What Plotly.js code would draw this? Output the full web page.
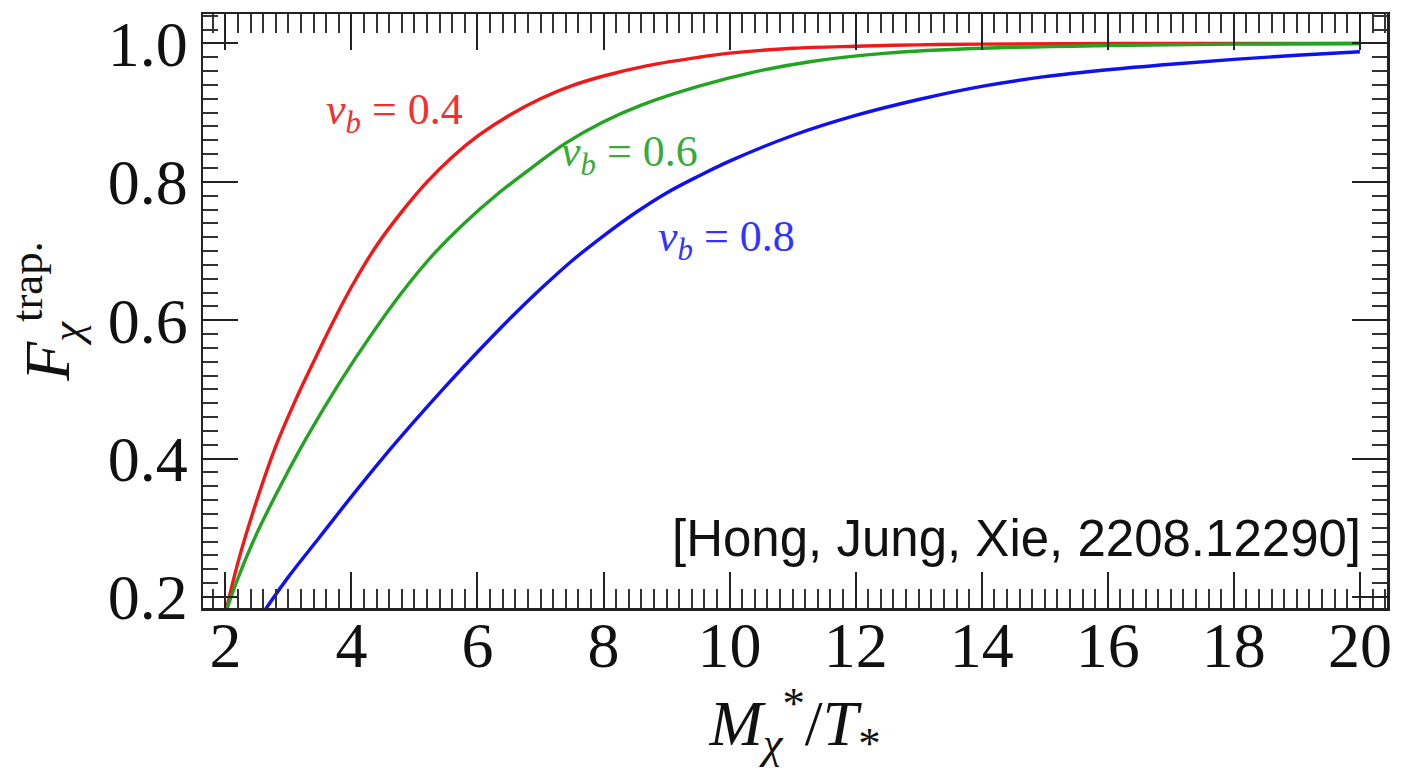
<!DOCTYPE html>
<html>
<head>
<meta charset="utf-8">
<script src="https://cdn.plot.ly/plotly-3.0.1.min.js"></script>
<style>html,body{margin:0;padding:0;background:#fff;}#chart{width:1408px;height:768px;}</style>
</head>
<body>
<div id="chart"></div>
<script>
// v_b = 0.4 (red)
const xRed = [2.0, 2.2, 2.5, 2.8, 3.1, 3.4, 3.7, 4.0, 4.4, 4.8, 5.2, 5.6, 6.0, 6.5, 7.0, 7.5, 8.0, 8.7, 9.5, 10.0, 11.0, 12.0, 13.0, 14.0, 16.0, 18.0, 20.0];
const yRed = [0.176, 0.250, 0.340, 0.418, 0.482, 0.540, 0.596, 0.648, 0.708, 0.757, 0.800, 0.836, 0.866, 0.896, 0.920, 0.939, 0.953, 0.968, 0.980, 0.986, 0.993, 0.996, 0.998, 0.999, 1.0, 1.0, 1.0];
// v_b = 0.6 (green)
const xGreen = [2.0, 2.2, 2.5, 2.9, 3.3, 3.8, 4.3, 4.8, 5.3, 5.8, 6.3, 6.9, 7.4, 8.0, 8.6, 9.5, 10.4, 11.3, 12.5, 14.0, 16.0, 18.0, 20.0];
const yGreen = [0.176, 0.227, 0.292, 0.365, 0.432, 0.508, 0.577, 0.640, 0.695, 0.741, 0.781, 0.823, 0.856, 0.887, 0.911, 0.938, 0.959, 0.974, 0.986, 0.993, 0.997, 0.999, 1.0];
// v_b = 0.8 (blue)
const xBlue = [2.62, 3.0, 3.5, 4.0, 4.5, 5.0, 5.5, 6.0, 6.5, 7.0, 7.5, 8.0, 8.5, 9.0, 9.5, 10.0, 11.0, 12.0, 13.0, 14.0, 15.0, 16.0, 17.0, 18.0, 19.0, 20.0];
const yBlue = [0.180, 0.229, 0.287, 0.345, 0.401, 0.454, 0.505, 0.554, 0.601, 0.645, 0.686, 0.722, 0.755, 0.784, 0.808, 0.830, 0.867, 0.896, 0.919, 0.938, 0.952, 0.962, 0.970, 0.977, 0.983, 0.988];

const seriesNames = ['v_b = 0.4', 'v_b = 0.6', 'v_b = 0.8'];
const labelTexts = ['<i>v</i><sub><i>b</i></sub> = 0.4', '<i>v</i><sub><i>b</i></sub> = 0.6', '<i>v</i><sub><i>b</i></sub> = 0.8'];
const labelX = [3.57, 7.30, 8.83];
const labelY = [0.900, 0.839, 0.716];
const citation = '[Hong, Jung, Xie, 2208.12290]';
const xTitle = '<i>M</i><sub><i>χ</i></sub><sup>*</sup>/<i>T</i><sub>*</sub>';
const yTitle = '<i>F</i><sub><i>χ</i></sub><sup>trap.</sup>';

const colors = ['#f21818', '#22a322', '#1010f5'];
const labelColors = ['#f23030', '#3aab3a', '#3333ff'];

const xs = [xRed, xGreen, xBlue];
const ys = [yRed, yGreen, yBlue];

const traces = xs.map((x, i) => ({
  x: x, y: ys[i], type: 'scatter', mode: 'lines', name: seriesNames[i],
  line: {color: colors[i], width: 3.4, shape: 'spline', smoothing: 1},
  hoverinfo: 'skip'
}));

const serif = 'Liberation Serif, Times New Roman, serif';

const annotations = labelTexts.map((t, i) => ({
  x: labelX[i], y: labelY[i], xref: 'x', yref: 'y', text: t, showarrow: false,
  xanchor: 'left', yanchor: 'middle',
  font: {family: serif, size: 44, color: labelColors[i]}
}));
annotations.push({
  x: 20.05, y: 0.284, xref: 'x', yref: 'y', text: citation, showarrow: false,
  xanchor: 'right', yanchor: 'middle',
  font: {family: 'Liberation Sans, Arial, sans-serif', size: 51, color: '#111'}
});

const layout = {
  width: 1408, height: 768,
  margin: {l: 203, r: 21, t: 14, b: 160},
  paper_bgcolor: '#fff', plot_bgcolor: '#fff',
  showlegend: false,
  xaxis: {
    range: [1.645, 20.43], tick0: 0, dtick: 2,
    ticks: 'inside', ticklen: 36, tickwidth: 2, tickcolor: '#222',
    minor: {dtick: 0.2, tick0: 0, ticks: 'inside', ticklen: 19, tickwidth: 2, tickcolor: '#333'},
    showline: true, linewidth: 2.5, linecolor: '#222', mirror: 'allticks',
    showgrid: false, zeroline: false,
    ticklabelstandoff: -20,
    tickfont: {family: serif, size: 64, color: '#111'},
    title: {text: xTitle, font: {family: serif, size: 64, color: '#111'}, standoff: 10}
  },
  yaxis: {
    range: [0.184, 1.0426], tick0: 0, dtick: 0.2, tickformat: '.1f',
    ticks: 'inside', ticklen: 35, tickwidth: 2, tickcolor: '#222',
    minor: {dtick: 0.02, tick0: 0, ticks: 'inside', ticklen: 15, tickwidth: 2, tickcolor: '#333'},
    showline: true, linewidth: 2.5, linecolor: '#222', mirror: 'allticks',
    showgrid: false, zeroline: false,
    tickfont: {family: serif, size: 64, color: '#111'},
    title: {text: yTitle, font: {family: serif, size: 64, color: '#111'}, standoff: 18}
  },
  annotations: annotations
};

Plotly.newPlot('chart', traces, layout, {displayModeBar: false, staticPlot: true});
</script>
</body>
</html>
